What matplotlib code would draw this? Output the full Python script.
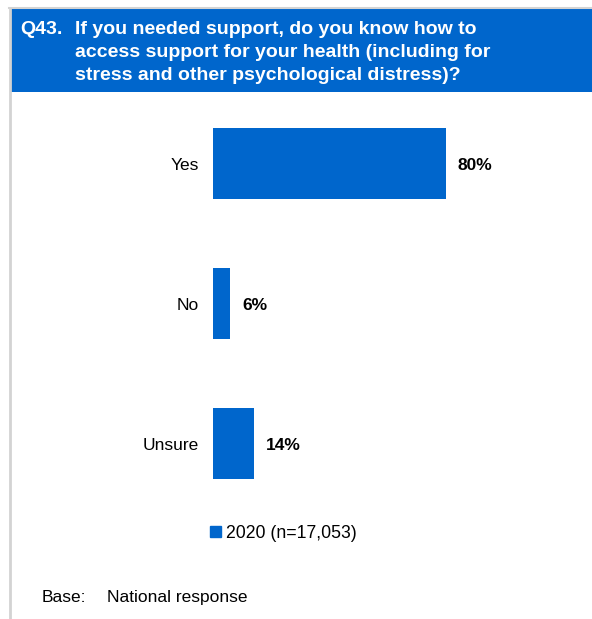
import matplotlib.pyplot as plt
import matplotlib.patches as mpatches

plt.rcParams['font.family'] = ['Liberation Sans', 'DejaVu Sans']

# data
categories = ["Yes", "No", "Unsure"]
values = [80, 6, 14]
series_label = "2020 (n=17,053)"
question_no = "Q43."
question_lines = ["If you needed support, do you know how to",
                  "access support for your health (including for",
                  "stress and other psychological distress)?"]
base_label = "Base:"
base_text = "National response"

blue = "#0066CC"
grey = "#D3D3D3"

W, H = 592, 619
fig = plt.figure(figsize=(W / 100, H / 100), dpi=100)

# frame: grey top line and left border
fig.add_artist(plt.Line2D([9 / W, 1], [1 - 8 / H, 1 - 8 / H], color=grey, lw=1.5))
fig.add_artist(plt.Line2D([9.5 / W, 9.5 / W], [0, 1 - 8 / H], color=grey, lw=2))

# title banner
fig.add_artist(mpatches.Rectangle((10 / W, 1 - 92 / H), 1 - 10 / W, 83 / H,
                                  transform=fig.transFigure, color=blue, lw=0))
fig.text(20 / W, 1 - 33.5 / H, question_no, color="white", fontsize=14,
         fontweight="bold", va="baseline", ha="left")
for i, line in enumerate(question_lines):
    fig.text(75 / W, 1 - (33.5 + 23.5 * i) / H, line, color="white", fontsize=14,
             fontweight="bold", va="baseline", ha="left")

# bar chart
ax = fig.add_axes([213 / W, 105.5 / H, 291 / W, 420 / H])
ypos = list(range(len(categories)))
ax.barh(ypos, values, height=0.507, color=blue)
ax.set_xlim(0, 100)
ax.set_ylim(len(categories) - 0.5, -0.5)
ax.set_yticks(ypos)
ax.set_yticklabels(categories, fontsize=12.5)
ax.tick_params(axis="y", length=0, pad=10)
ax.set_xticks([])
for s in ax.spines.values():
    s.set_visible(False)
for y, v in zip(ypos, values):
    ax.annotate(f"{v}%", (v, y), xytext=(12, -2), textcoords="offset pixels",
                va="center", ha="left", fontsize=12.5, fontweight="bold")

# legend
handle = mpatches.Patch(color=blue, label=series_label)
fig.legend(handles=[handle], loc="center left", bbox_to_anchor=(210 / W, 1 - 533 / H),
           frameon=False, fontsize=12.7, handlelength=0.6, handleheight=0.6,
           handletextpad=0.3, borderaxespad=0, borderpad=0)

fig.text(42 / W, 1 - 602 / H, base_label, fontsize=12.5, va="baseline", ha="left")
fig.text(107 / W, 1 - 602 / H, base_text, fontsize=12.5, va="baseline", ha="left")

fig.savefig("out.png", dpi=100)
